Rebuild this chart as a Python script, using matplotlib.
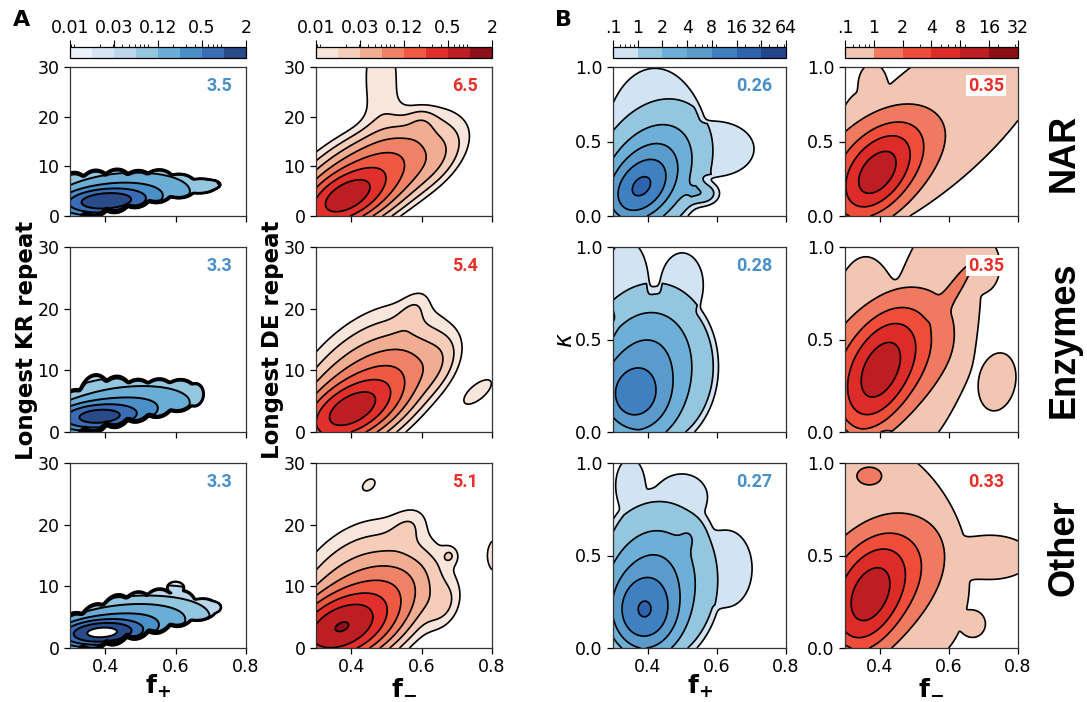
import numpy as np
import matplotlib
matplotlib.use("Agg")
import matplotlib.pyplot as plt
from matplotlib.colors import LogNorm, ListedColormap
from matplotlib.cm import ScalarMappable
from matplotlib.ticker import NullFormatter

# ---------------- data ----------------
rows = ["NAR", "Enzymes", "Other"]
kr_means = [3.5, 3.3, 3.3]      # panel A, f+ vs longest KR repeat
de_means = [6.5, 5.4, 5.1]      # panel A, f- vs longest DE repeat
kp_means = [0.26, 0.28, 0.27]   # panel B, f+ vs kappa
km_means = [0.35, 0.35, 0.33]   # panel B, f- vs kappa

# density levels (colour bar boundaries)
levels_a = [2.0 ** e for e in range(-7, 2)]
levels_a_ticks = [2.0 ** -7, 2.0 ** -5, 2.0 ** -3, 2.0 ** -1, 2.0]
levels_a_labels = ["0.01", "0.03", "0.12", "0.5", "2"]
levels_bb = [0.5, 1, 2, 4, 8, 16, 32, 64]
levels_bb_labels = [".1", "1", "2", "4", "8", "16", "32", "64"]
levels_br = [0.5, 1, 2, 4, 8, 16, 32]
levels_br_labels = [".1", "1", "2", "4", "8", "16", "32"]
floor_b = 0.7   # density of the outer (lightest) band in panel B

# density components:
# (x centre, y centre, x spread, y spread, shear dy/dx, peak density, shape)
# *_edge lists: outline of the populated region
kr_nar = [(0.40, 3.0, 0.06, 1.3, 4, 1.5, 2),
          (0.45, 4.0, 0.12, 3.0, 5, 0.25, 2),
          (0.50, 5.0, 0.30, 6.0, 0, 0.06, 2)]
kr_nar_edge = [(0.31, 4.0, 0.04, 3.9, 3, 3, 8),
               (0.37, 4.6, 0.04, 3.75, 6, 3, 8),
               (0.43, 5.15, 0.04, 3.45, 7, 3, 8),
               (0.49, 5.5, 0.04, 2.95, 7, 3, 8),
               (0.55, 6.05, 0.04, 2.65, 5, 3, 8),
               (0.61, 6.05, 0.04, 1.95, 0, 3, 8),
               (0.67, 6.05, 0.04, 1.2, 2, 3, 8),
               (0.70, 6.3, 0.022, 0.8, 0, 3, 8)]
kr_enz = [(0.38, 2.5, 0.06, 1.1, 3, 1.2, 2),
          (0.45, 3.6, 0.12, 2.3, 6, 0.25, 2),
          (0.50, 5.0, 0.30, 6.0, 0, 0.06, 2)]
kr_enz_edge = [(0.31, 3.15, 0.04, 3.0, 10, 3, 8),
               (0.37, 4.65, 0.04, 3.8, 8, 3, 8),
               (0.43, 5.0, 0.04, 3.3, 5, 3, 8),
               (0.49, 5.15, 0.04, 2.75, 5, 3, 8),
               (0.55, 5.55, 0.04, 2.5, 5, 3, 8),
               (0.61, 5.95, 0.04, 2.1, 5, 3, 8),
               (0.655, 6.05, 0.02, 1.5, 5, 3, 8)]
kr_oth = [(0.39, 2.5, 0.055, 1.0, 3, 2.3, 2),
          (0.44, 3.5, 0.12, 2.2, 6, 0.3, 2),
          (0.50, 5.0, 0.30, 6.0, 0, 0.04, 2)]
kr_oth_edge = [(0.31, 2.6, 0.04, 2.5, 10, 3, 8),
               (0.37, 3.4, 0.04, 3.0, 14, 3, 8),
               (0.43, 4.7, 0.04, 3.2, 14, 3, 8),
               (0.49, 5.4, 0.04, 3.05, 8, 3, 8),
               (0.55, 6.1, 0.04, 2.9, 8, 3, 8),
               (0.61, 6.5, 0.04, 2.4, 5, 3, 8),
               (0.60, 9.8, 0.02, 0.8, 0, 3, 8),
               (0.67, 6.25, 0.04, 1.45, 6, 3, 8),
               (0.705, 6.6, 0.02, 0.8, 0, 3, 8)]
de_nar = [(0.385, 3.8, 0.055, 2.4, 25, 0.6, 2),
          (0.42, 5.5, 0.10, 4.0, 35, 0.2, 2),
          (0.45, 9.0, 0.13, 5.0, 30, 0.05, 2),
          (0.485, 28.0, 0.04, 8.0, 0, 0.0135, 2),
          (0.60, 18.5, 0.025, 1.8, 0, 0.012, 2),
          (0.64, 11.0, 0.05, 3.0, 40, 0.015, 2)]
de_enz = [(0.40, 3.6, 0.06, 2.1, 20, 0.6, 2),
          (0.43, 5.0, 0.10, 3.6, 30, 0.18, 2),
          (0.43, 8.0, 0.12, 6.0, 30, 0.04, 2),
          (0.57, 19.0, 0.03, 2.0, 40, 0.01, 2),
          (0.64, 11.0, 0.04, 2.5, 30, 0.015, 2),
          (0.76, 6.5, 0.035, 1.3, 35, 0.014, 2)]
de_oth = [(0.37, 3.3, 0.065, 2.4, 15, 0.82, 2),
          (0.41, 5.0, 0.10, 3.6, 25, 0.2, 2),
          (0.42, 8.0, 0.11, 6.5, 20, 0.045, 2),
          (0.56, 19.5, 0.035, 2.0, 20, 0.01, 2),
          (0.66, 7.0, 0.035, 2.5, 20, 0.015, 2),
          (0.45, 26.5, 0.018, 0.9, 20, 0.011, 2),
          (0.68, 15.0, 0.016, 1.0, 0, 0.011, 2),
          (0.815, 15.0, 0.025, 2.5, 0, 0.014, 2)]
kp_nar = [(0.38, 0.19, 0.045, 0.10, 0.8, 12, 2),
          (0.39, 0.25, 0.07, 0.17, 1.0, 5, 2),
          (0.43, 0.35, 0.09, 0.25, 0.5, 1.0, 2),
          (0.56, 0.15, 0.03, 0.05, 0, 1.5, 2)]
kp_nar_edge = [(0.42, 0.45, 0.12, 0.45, 0, 3, 6),
               (0.60, 0.45, 0.09, 0.15, 0, 3, 6)]
kp_enz = [(0.36, 0.20, 0.05, 0.10, 0, 7, 2),
          (0.38, 0.28, 0.08, 0.20, 0.5, 4.5, 2),
          (0.42, 0.35, 0.10, 0.24, 0, 0.85, 2)]
kp_enz_edge = [(0.44, 0.35, 0.13, 0.33, 0, 3, 6),
               (0.34, 0.82, 0.05, 0.18, 0, 3, 6),
               (0.50, 0.80, 0.05, 0.14, 0, 3, 6)]
kp_oth = [(0.39, 0.20, 0.045, 0.10, 0, 11, 2),
          (0.40, 0.28, 0.07, 0.18, 0.5, 5, 2),
          (0.43, 0.36, 0.10, 0.24, 0, 1.0, 2),
          (0.52, 0.60, 0.02, 0.05, 0, 0.6, 2)]
kp_oth_edge = [(0.44, 0.40, 0.14, 0.38, 0, 3, 6),
               (0.35, 0.88, 0.035, 0.12, 0, 3, 6),
               (0.50, 0.82, 0.06, 0.10, 0, 3, 6),
               (0.63, 0.43, 0.06, 0.17, 0, 3, 6)]
km_nar = [(0.39, 0.27, 0.05, 0.12, 1.2, 7, 2),
          (0.40, 0.33, 0.07, 0.15, 1.0, 4, 2),
          (0.40, 0.40, 0.12, 0.17, 0.8, 0.7, 2)]
km_nar_edge = [(0.55, 0.60, 0.30, 0.42, 1.6, 3, 6),
               (0.34, 0.50, 0.06, 0.28, 1.0, 3, 6),
               (0.38, 0.88, 0.035, 0.12, 0, 3, 6)]
km_enz = [(0.40, 0.32, 0.05, 0.13, 1.2, 7, 2),
          (0.41, 0.36, 0.08, 0.15, 1.0, 4, 2),
          (0.42, 0.42, 0.11, 0.17, 0.5, 0.7, 2),
          (0.615, 0.77, 0.035, 0.035, 2.5, 0.8, 2),
          (0.74, 0.27, 0.06, 0.17, 0.5, 0.75, 2)]
km_enz_edge = [(0.36, 0.47, 0.09, 0.40, 0, 3, 6),
               (0.55, 0.55, 0.12, 0.50, 2.0, 3, 6),
               (0.70, 0.90, 0.04, 0.12, 0, 3, 6)]
km_oth = [(0.37, 0.27, 0.05, 0.13, 1.0, 7, 2),
          (0.38, 0.32, 0.08, 0.15, 0.8, 4, 2),
          (0.40, 0.40, 0.11, 0.16, 0.5, 0.7, 2),
          (0.37, 0.93, 0.03, 0.04, 0, 0.6, 2)]
km_oth_edge = [(0.42, 0.50, 0.20, 0.50, -0.6, 3, 6),
               (0.72, 0.49, 0.10, 0.10, 0, 3, 6),
               (0.67, 0.13, 0.03, 0.06, 0, 3, 6)]

# ---------------- style ----------------
blues_a = ["#eaf3fa", "#d5e5f4", "#bcd7ec", "#94c7df", "#6aaed6", "#4a8fc8", "#3a6db5", "#294b8a"]
reds_a = ["#f8e6dc", "#f5cdb9", "#f1ad92", "#ef8264", "#ef5841", "#e1302b", "#bd1e22", "#8c1018"]
blues_b = ["#d2e3f3", "#94c6df", "#6dafd6", "#5a9bcc", "#3f80c0", "#2f63ad", "#23478a"]
reds_b = ["#f2c6b2", "#ef7a60", "#ef4d3a", "#dd2b27", "#bc1e22", "#8a1016"]
blue_txt = "#4a90c8"
red_txt = "#e8302a"

W, H = 1087, 702
fig = plt.figure(figsize=(W / 100, H / 100), dpi=100)


def rect(x0, y0, x1, y1):
    return [x0 / W, 1 - y1 / H, (x1 - x0) / W, (y1 - y0) / H]


def density(X, Y, comps):
    Z = np.zeros_like(X)
    for cx, cy, sx, sy, k, w, p in comps:
        dx = (X - cx) / sx
        dy = (Y - cy - k * (X - cx)) / sy
        r2 = dx ** 2 + dy ** 2
        Z += w * np.exp(-0.5 * r2 ** (p / 2.0))
    return Z


col_x = [(70, 246), (316, 492), (613, 786), (845, 1018)]
row_y = [(67, 216), (247, 432), (463, 648)]

panels = [
    (kr_nar, kr_enz, kr_oth),
    (de_nar, de_enz, de_oth),
    (kp_nar, kp_enz, kp_oth),
    (km_nar, km_enz, km_oth),
]
edges = [(kr_nar_edge, kr_enz_edge, kr_oth_edge), None,
         (kp_nar_edge, kp_enz_edge, kp_oth_edge),
         (km_nar_edge, km_enz_edge, km_oth_edge)]
means = [kr_means, de_means, kp_means, km_means]
col_levels = [levels_a, levels_a, levels_bb, levels_br]
col_colors = [blues_a, reds_a, blues_b, reds_b]
col_ymax = [30, 30, 1.0, 1.0]
col_txt = [blue_txt, red_txt, blue_txt, red_txt]

for c in range(4):
    ymax = col_ymax[c]
    xs = np.linspace(0.3, 0.8, 400)
    ys = np.linspace(0, ymax, 500)
    X, Y = np.meshgrid(xs, ys)
    for r in range(3):
        ax = fig.add_axes(rect(col_x[c][0], row_y[r][0], col_x[c][1], row_y[r][1]))
        Z = density(X, Y, panels[c][r])
        if c == 0:
            Z = Z * np.clip(density(X, Y, edges[c][r]), 0, 1)
        elif c >= 2:
            Z = Z + floor_b * np.clip(density(X, Y, edges[c][r]), 0, 1)
        ax.contourf(X, Y, Z, levels=col_levels[c], colors=col_colors[c])
        ax.contour(X, Y, Z, levels=col_levels[c], colors="k",
                   linewidths=1.4 if c == 0 else 1.2)
        ax.set_xlim(0.3, 0.8)
        ax.set_ylim(0, ymax)
        ax.set_xticks([0.4, 0.6, 0.8])
        if ymax == 30:
            ax.set_yticks([0, 10, 20, 30])
        else:
            ax.set_yticks([0.0, 0.5, 1.0])
            ax.set_yticklabels(["0.0", "0.5", "1.0"])
        ax.tick_params(labelsize=12.5, length=4.5, width=0.9, pad=3)
        if r < 2:
            ax.set_xticklabels([])
        for s in ax.spines.values():
            s.set_linewidth(0.9)
            s.set_color("#333333")
        kw = {}
        if c == 3:
            kw["bbox"] = dict(facecolor="white", edgecolor="none", pad=1.2)
        ax.annotate(f"{means[c][r]}", xy=(1, 1), xycoords="axes fraction",
                    xytext=(-10, -7), textcoords="offset points",
                    ha="right", va="top", color=col_txt[c],
                    fontsize=13, fontweight="bold", family="Roboto", **kw)

    # colour bar
    cax = fig.add_axes(rect(col_x[c][0], 47, col_x[c][1], 58))
    lv = col_levels[c]
    sm = ScalarMappable(norm=LogNorm(vmin=lv[0], vmax=lv[-1]),
                        cmap=ListedColormap(col_colors[c]))
    cb = fig.colorbar(sm, cax=cax, orientation="horizontal")
    if c < 2:
        cb.set_ticks(levels_a_ticks)
        cb.set_ticklabels(levels_a_labels)
    elif c == 2:
        cb.set_ticks(levels_bb)
        cb.set_ticklabels(levels_bb_labels)
    else:
        cb.set_ticks(levels_br)
        cb.set_ticklabels(levels_br_labels)
    cax.xaxis.set_minor_formatter(NullFormatter())
    cax.xaxis.set_ticks_position("top")
    cax.xaxis.set_label_position("top")
    cax.tick_params(which="major", labelsize=12.5, length=5, width=0.8, pad=2)
    cax.tick_params(which="minor", length=2.5, width=0.6)
    cb.outline.set_linewidth(0.9)


def ftext(x, y, s, **kw):
    fig.text(x / W, 1 - y / H, s, **kw)


ftext(22, 20, "A", fontsize=16, fontweight="bold", ha="center", va="center")
ftext(563, 20, "B", fontsize=16, fontweight="bold", ha="center", va="center")
ftext(27, 340, "Longest KR repeat", rotation=90, fontsize=16.5, fontweight="bold",
      ha="center", va="center")
ftext(272, 340, "Longest DE repeat", rotation=90, fontsize=16.5, fontweight="bold",
      ha="center", va="center")
ftext(565, 340, r"$\kappa$", rotation=90, fontsize=17, ha="center", va="center")
for x0, lab in [(158, r"$\mathbf{f}_{\mathbf{+}}$"), (404, r"$\mathbf{f}_{\mathbf{-}}$"),
                (700, r"$\mathbf{f}_{\mathbf{+}}$"), (931, r"$\mathbf{f}_{\mathbf{-}}$")]:
    ftext(x0, 694, lab, fontsize=18, ha="center", va="baseline")
for yc, lab in zip([153, 340, 548], rows):
    ftext(1064, yc, lab, rotation=90, fontsize=26, fontweight="bold",
          family="Liberation Sans", ha="center", va="center")

fig.savefig("out.png", dpi=100)
